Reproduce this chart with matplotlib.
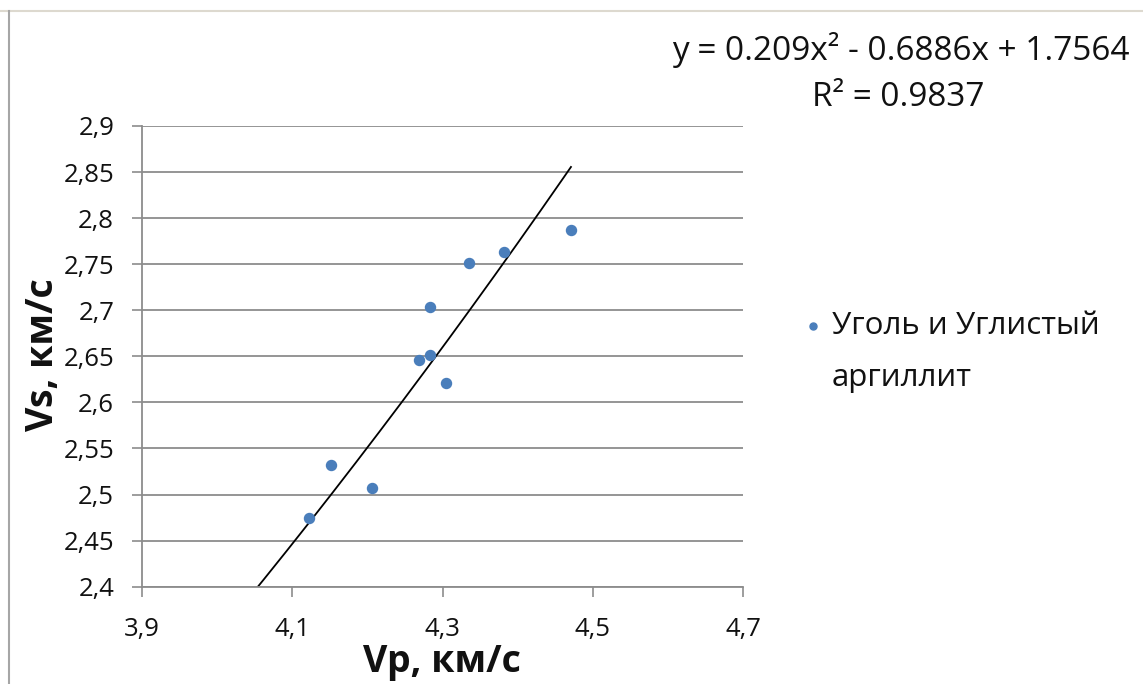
import numpy as np
import matplotlib
matplotlib.use("Agg")
import matplotlib.pyplot as plt
from matplotlib.lines import Line2D

plt.rcParams['font.family'] = ['Open Sans', 'DejaVu Sans']

# data
vp = [4.122, 4.151, 4.206, 4.269, 4.284, 4.284, 4.304, 4.335, 4.382, 4.471]
vs = [2.475, 2.532, 2.507, 2.646, 2.652, 2.704, 2.621, 2.751, 2.763, 2.787]
trend_coef = [0.209, -0.6886, 1.7564]
x_ticks = [3.9, 4.1, 4.3, 4.5, 4.7]
y_ticks = [2.4, 2.45, 2.5, 2.55, 2.6, 2.65, 2.7, 2.75, 2.8, 2.85, 2.9]
series_line1 = "Уголь и Углистый"
series_line2 = "аргиллит"
eq_line = "y = 0.209x² - 0.6886x + 1.7564"
r2_line = "R² = 0.9837"
x_label = "Vp, км/с"
y_label = "Vs, км/с"

W, H = 1143, 684
fig = plt.figure(figsize=(W / 100, H / 100), dpi=100)
ax = fig.add_axes([142 / W, 1 - 586.7 / H, 601 / W, 460.7 / H])

grid_col = "#8c8c8c"
blue = "#4a7ebb"
txt_col = "#111111"

ax.scatter(vp, vs, s=52, color=blue, zorder=3, label=series_line1)

xt = np.linspace(4.0, max(vp), 200)
ax.plot(xt, np.polyval(trend_coef, xt), color="black", lw=1.3, zorder=2)

ax.set_xlim(x_ticks[0], x_ticks[-1])
ax.set_ylim(y_ticks[0], y_ticks[-1])
ax.set_xticks(x_ticks)
ax.set_yticks(y_ticks)
ax.set_xticklabels([f"{v:g}".replace(".", ",") for v in x_ticks])
ax.set_yticklabels([f"{v:g}".replace(".", ",") for v in y_ticks])
ax.tick_params(axis="both", direction="out", length=7, width=1.2, color=grid_col,
               labelsize=18.5, labelcolor=txt_col)
ax.tick_params(axis="y", pad=13)
ax.tick_params(axis="x", pad=15)

ax.grid(axis="y", color=grid_col, lw=1.3)
ax.set_axisbelow(True)
for s in ["top", "right"]:
    ax.spines[s].set_visible(False)
for s in ["left", "bottom"]:
    ax.spines[s].set_color(grid_col)
    ax.spines[s].set_linewidth(1.3)

fig.text(442 / W, 1 - 662 / H, x_label, ha="center", va="center",
         fontsize=27, fontweight="bold", color=txt_col)
fig.text(43 / W, 1 - 355 / H, y_label, ha="center", va="center",
         rotation=90, fontsize=27, fontweight="bold", color=txt_col)

fig.text(901 / W, 1 - 50 / H, eq_line, ha="center", va="center", fontsize=24, color=txt_col)
fig.text(898 / W, 1 - 97 / H, r2_line, ha="center", va="center", fontsize=24, color=txt_col)

leg = fig.legend(loc="center left", bbox_to_anchor=(805 / W, 1 - 326 / H),
                 frameon=False, fontsize=22.5, handlelength=0.5, handletextpad=0.36,
                 borderpad=0, borderaxespad=0, scatterpoints=1, markerscale=0.7)
for t in leg.get_texts():
    t.set_color(txt_col)
fig.canvas.draw()
bb = leg.get_texts()[0].get_window_extent()
fig.text(bb.x0 / W, 1 - 378 / H, series_line2, ha="left", va="center", fontsize=22.5,
         color=txt_col)

# outer frame of the original picture
fig.add_artist(Line2D([0, 1], [1 - 11 / H, 1 - 11 / H], color="#ddd9cf", lw=1.5))
fig.add_artist(Line2D([9 / W, 9 / W], [0, 1 - 11 / H], color="#a6a6a6", lw=1.5))

fig.savefig("out.png", dpi=100)
